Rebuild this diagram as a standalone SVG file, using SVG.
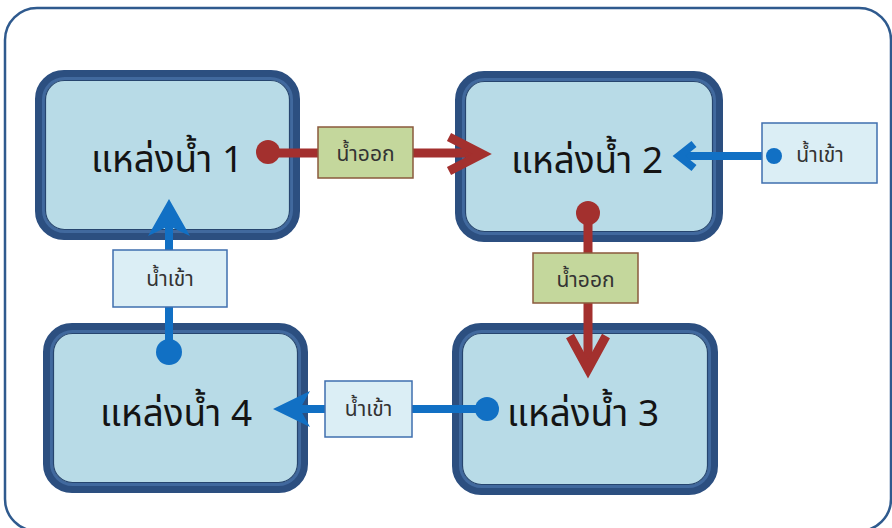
<svg xmlns="http://www.w3.org/2000/svg" width="892" height="528" viewBox="0 0 892 528">
  <defs>
    <style>
      .frame { fill: #ffffff; stroke: #2f5a8e; stroke-width: 2.5; }
      .node-outer { fill: #b8dbe7; stroke: #2c4f80; stroke-width: 10; }
      .node-mid { fill: none; stroke: #41699e; stroke-width: 3; }
      .node-inner { fill: none; stroke: #26456f; stroke-width: 1.2; }
      .node-text { font-family: "Noto Sans Thai", "Noto Sans", "DejaVu Sans", sans-serif; font-size: 37px; fill: #141414; text-anchor: middle; }
      .lbl-out { fill: #c4d79c; stroke: #8a5a3c; stroke-width: 1.5; }
      .lbl-in { fill: #dbeef5; stroke: #3f6fae; stroke-width: 1.5; }
      .lbl-text { font-family: "Noto Sans Thai", "Noto Sans", "DejaVu Sans", sans-serif; font-size: 21px; fill: #333333; text-anchor: middle; }
      .red { stroke: #a3302e; fill: none; stroke-width: 9; }
      .red-dot { fill: #a3302e; }
      .blue { stroke: #1170c4; fill: none; stroke-width: 8; }
      .blue-dot { fill: #1170c4; }
      .blue-head { fill: #1170c4; }
    </style>
  </defs>

  <rect class="frame" x="5" y="8" width="886" height="523" rx="32"/>

  <g id="node-1">
    <rect class="node-outer" x="40" y="75" width="255" height="160" rx="24"/>
    <rect class="node-mid" x="43.5" y="78.5" width="248" height="153" rx="21"/>
    <rect class="node-inner" x="45.5" y="80.5" width="244" height="149" rx="19"/>
    <text class="node-text" x="167" y="172">แหล่งน้ำ 1</text>
  </g>

  <g id="node-2">
    <rect class="node-outer" x="460" y="76" width="258" height="161" rx="24"/>
    <rect class="node-mid" x="463.5" y="79.5" width="251" height="154" rx="21"/>
    <rect class="node-inner" x="465.5" y="81.5" width="247" height="150" rx="19"/>
    <text class="node-text" x="587" y="173">แหล่งน้ำ 2</text>
  </g>

  <g id="node-3">
    <rect class="node-outer" x="457" y="328" width="256" height="162" rx="24"/>
    <rect class="node-mid" x="460.5" y="331.5" width="249" height="155" rx="21"/>
    <rect class="node-inner" x="462.5" y="333.5" width="245" height="151" rx="19"/>
    <text class="node-text" x="583" y="426">แหล่งน้ำ 3</text>
  </g>

  <g id="node-4">
    <rect class="node-outer" x="48" y="328" width="255" height="160" rx="24"/>
    <rect class="node-mid" x="51.5" y="331.5" width="248" height="153" rx="21"/>
    <rect class="node-inner" x="53.5" y="333.5" width="244" height="149" rx="19"/>
    <text class="node-text" x="176" y="426">แหล่งน้ำ 4</text>
  </g>

  <g id="connectors">
    <!-- 1 to 2: outflow -->
    <line class="red" x1="268" y1="153" x2="480" y2="153"/>
    <circle class="red-dot" cx="268" cy="152" r="12"/>
    <polyline class="red" points="449,137 482,154 449,171" stroke-linejoin="miter"/>

    <!-- 2 to 3: outflow -->
    <line class="red" x1="588" y1="213" x2="588" y2="368"/>
    <circle class="red-dot" cx="588" cy="213" r="12"/>
    <polyline class="red" points="570,336 588,369 606,336" stroke-linejoin="miter"/>

    <!-- inflow into 2 -->
    <line class="blue" x1="774" y1="156" x2="682" y2="156" stroke-width="5"/>
    <polyline class="blue" points="694,144 679,156 694,168" stroke-width="5"/>

    <!-- 4 to 1: inflow -->
    <line class="blue" x1="169" y1="352" x2="169" y2="225"/>
    <circle class="blue-dot" cx="169" cy="352" r="13"/>
    <path class="blue-head" d="M169,199 L190,236 L169,226 L148,236 Z"/>

    <!-- 3 to 4: inflow -->
    <line class="blue" x1="487" y1="409" x2="300" y2="409"/>
    <circle class="blue-dot" cx="487" cy="409" r="12"/>
    <path class="blue-head" d="M273,409 L310,391 L300,409 L310,427 Z"/>
  </g>

  <g id="label-out-12">
    <rect class="lbl-out" x="318" y="127" width="95" height="51"/>
    <text class="lbl-text" x="365.5" y="161">น้ำออก</text>
  </g>
  <g id="label-out-23">
    <rect class="lbl-out" x="533" y="253" width="105" height="50"/>
    <text class="lbl-text" x="585.5" y="287">น้ำออก</text>
  </g>
  <g id="label-in-2">
    <rect class="lbl-in" x="762" y="123" width="115" height="60"/>
    <circle class="blue-dot" cx="774" cy="156" r="8"/>
    <text class="lbl-text" x="820" y="162">น้ำเข้า</text>
  </g>
  <g id="label-in-41">
    <rect class="lbl-in" x="113" y="250" width="114" height="57"/>
    <text class="lbl-text" x="170" y="286">น้ำเข้า</text>
  </g>
  <g id="label-in-34">
    <rect class="lbl-in" x="325" y="381" width="87" height="56"/>
    <text class="lbl-text" x="368.5" y="416">น้ำเข้า</text>
  </g>
</svg>
